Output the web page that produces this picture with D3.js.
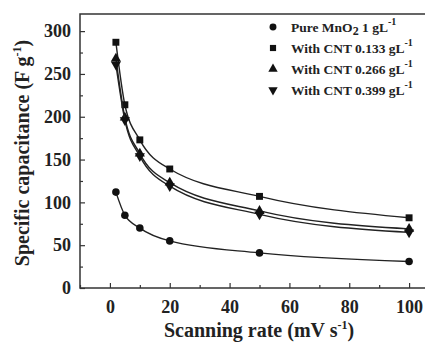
<!DOCTYPE html>
<html>
<head>
<meta charset="utf-8">
<script src="https://cdn.jsdelivr.net/npm/d3@7"></script>
<style>
  body { margin: 0; background: #fff; }
  svg { display: block; font-family: "Liberation Serif", "Times New Roman", serif; font-weight: bold; }
</style>
</head>
<body>
<div id="chart"></div>
<script>
// data
const rates = [2, 5, 10, 20, 50, 100];
const pureMnO2 = [112, 85, 70, 55, 41, 31];
const cnt0133 = [287, 214, 173, 139, 107, 82];
const cnt0266 = [268, 199, 157, 123, 90, 69];
const cnt0399 = [261, 196, 154, 119, 86, 65];
const seriesNames = ["Pure MnO", "With CNT 0.133 gL", "With CNT 0.266 gL", "With CNT 0.399 gL"];
const xTicks = [0, 20, 40, 60, 80, 100];
const yTicks = [0, 50, 100, 150, 200, 250, 300];

const width = 425, height = 342;
const svg = d3.select("#chart").append("svg")
  .attr("width", width).attr("height", height);

const x = d3.scaleLinear().domain([-10, 110]).range([80, 439]);
const y = d3.scaleLinear().domain([0, 320]).range([288, 14]);

// frame (right side runs past window)
svg.append("rect")
  .attr("x", x(-10)).attr("y", y(320))
  .attr("width", x(110) - x(-10)).attr("height", y(0) - y(320))
  .attr("fill", "none").attr("stroke", "#333").attr("stroke-width", 1.5);

// x axis
const xAxis = svg.append("g").attr("transform", `translate(0,${y(0)})`)
  .call(d3.axisBottom(x).tickValues(xTicks).tickSizeInner(-5).tickSizeOuter(0).tickPadding(12));
svg.append("g").attr("transform", `translate(0,${y(0)})`)
  .call(d3.axisBottom(x).tickValues(d3.range(-10, 110, 20)).tickSizeInner(-3).tickSizeOuter(0).tickFormat(""))
  .select(".domain").remove();
xAxis.select(".domain").remove();
xAxis.selectAll("text").attr("font-size", 18).attr("font-family", "Liberation Serif").attr("font-weight", "bold").attr("fill", "#222");

// y axis
const yAxis = svg.append("g").attr("transform", `translate(${x(-10)},0)`)
  .call(d3.axisLeft(y).tickValues(yTicks).tickSizeInner(-5).tickSizeOuter(0).tickPadding(9));
svg.append("g").attr("transform", `translate(${x(-10)},0)`)
  .call(d3.axisLeft(y).tickValues(d3.range(25, 320, 50)).tickSizeInner(-3).tickSizeOuter(0).tickFormat(""))
  .select(".domain").remove();
yAxis.select(".domain").remove();
yAxis.selectAll("text").attr("font-size", 18).attr("font-family", "Liberation Serif").attr("font-weight", "bold").attr("fill", "#222");
svg.selectAll(".tick line").attr("stroke", "#333").attr("stroke-width", 1.2);

// curves
const allSeries = [pureMnO2, cnt0133, cnt0266, cnt0399];
const symbols = [d3.symbolCircle, d3.symbolSquare, d3.symbolTriangle, d3.symbolTriangle];
const line = d3.line().x((d, i) => x(rates[i])).y(d => y(d)).curve(d3.curveMonotoneX);

allSeries.forEach((s, k) => {
  svg.append("path").datum(s).attr("d", line)
    .attr("fill", "none").attr("stroke", "#222").attr("stroke-width", 1.4);
  svg.append("g").selectAll("path").data(s).join("path")
    .attr("d", d3.symbol().type(symbols[k]).size(k === 1 ? 48 : 45))
    .attr("transform", (d, i) => `translate(${x(rates[i])},${y(d)})${k === 3 ? " rotate(180)" : ""}`)
    .attr("fill", "#111");
});

// legend
const legend = svg.append("g");
const legendY = [27, 48, 69, 90];
seriesNames.forEach((name, k) => {
  legend.append("path")
    .attr("d", d3.symbol().type(symbols[k]).size(38))
    .attr("transform", `translate(273,${legendY[k]})${k === 3 ? " rotate(180)" : ""}`)
    .attr("fill", "#111");
  const t = legend.append("text").attr("x", 291).attr("y", legendY[k] + 5)
    .attr("font-size", 13.5).attr("fill", "#222");
  t.append("tspan").text(name);
  if (k === 0) {
    t.append("tspan").attr("dy", 3).attr("font-size", 12).text("2");
    t.append("tspan").attr("dy", -3).text(" 1 gL");
  }
  t.append("tspan").attr("dy", -7).attr("font-size", 10).text("-1");
});

// axis titles
const xt = svg.append("text").attr("x", 259).attr("y", 337).attr("text-anchor", "middle")
  .attr("font-size", 20).attr("fill", "#222");
xt.append("tspan").text("Scanning rate (mV s");
xt.append("tspan").attr("dy", -8).attr("font-size", 12).text("-1");
xt.append("tspan").attr("dy", 8).text(")");

const yt = svg.append("text").attr("transform", "translate(29,153) rotate(-90)")
  .attr("text-anchor", "middle").attr("font-size", 20).attr("fill", "#222");
yt.append("tspan").text("Specific capacitance (F g");
yt.append("tspan").attr("dy", -8).attr("font-size", 12).text("-1");
yt.append("tspan").attr("dy", 8).text(")");
</script>
</body>
</html>
